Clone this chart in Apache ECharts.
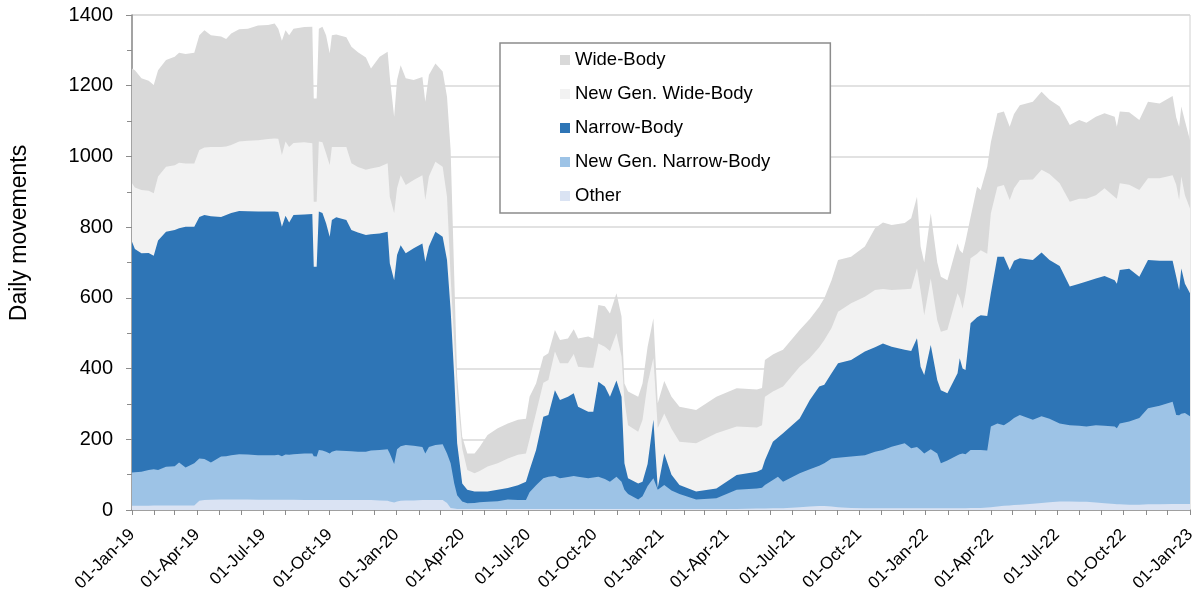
<!DOCTYPE html>
<html>
<head>
<meta charset="utf-8">
<title>Daily movements</title>
<script src="https://cdn.jsdelivr.net/npm/echarts@6/dist/echarts.min.js"></script>
<style>
  html, body { margin: 0; padding: 0; background: #fff; }
  #chart { width: 1199px; height: 593px; }
</style>
</head>
<body>
<div id="chart"></div>
<script>
// sample dates (denser where the curves move fast)
const dates = [
  '2019-01-01','2019-01-05','2019-01-14','2019-01-24','2019-01-31','2019-02-06','2019-02-17','2019-03-01','2019-03-07','2019-03-16',
  '2019-03-28','2019-04-04','2019-04-11','2019-04-20','2019-05-04','2019-05-11','2019-05-18','2019-05-29','2019-06-10','2019-06-24',
  '2019-07-08','2019-07-17','2019-07-22','2019-07-27','2019-08-01','2019-08-06','2019-08-12','2019-08-27','2019-09-07','2019-09-09',
  '2019-09-13','2019-09-16','2019-09-21','2019-09-26','2019-10-01','2019-10-04','2019-10-10','2019-10-24','2019-10-31','2019-11-09',
  '2019-11-20','2019-11-27','2019-12-09','2019-12-20','2019-12-23','2019-12-29','2020-01-02','2020-01-07','2020-01-14','2020-01-25',
  '2020-02-06','2020-02-10','2020-02-15','2020-02-24','2020-03-05','2020-03-11','2020-03-16','2020-03-21','2020-03-25','2020-04-01',
  '2020-04-08','2020-04-18','2020-04-25','2020-05-06','2020-05-20','2020-06-03','2020-06-17','2020-06-28','2020-07-03','2020-07-12',
  '2020-07-22','2020-07-29','2020-08-07','2020-08-14','2020-08-25','2020-09-02','2020-09-08','2020-09-22','2020-09-29','2020-10-06',
  '2020-10-15','2020-10-22','2020-10-31','2020-11-07','2020-11-11','2020-11-16','2020-11-30','2020-12-06','2020-12-13','2020-12-21',
  '2020-12-27','2021-01-05','2021-01-15','2021-01-26','2021-02-18','2021-03-18','2021-04-15','2021-05-13','2021-05-20','2021-05-24',
  '2021-06-04','2021-06-11','2021-06-18','2021-07-11','2021-07-25','2021-08-07','2021-08-14','2021-08-24','2021-09-02','2021-09-20',
  '2021-10-09','2021-10-23','2021-11-03','2021-11-15','2021-12-03','2021-12-12','2021-12-20','2021-12-25','2021-12-30','2022-01-08',
  '2022-01-17','2022-01-22','2022-01-31','2022-02-14','2022-02-17','2022-02-21','2022-02-25','2022-03-04','2022-03-13','2022-03-18',
  '2022-03-27','2022-04-01','2022-04-10','2022-04-19','2022-04-27','2022-05-03','2022-05-11','2022-05-29','2022-06-10','2022-06-21',
  '2022-07-05','2022-07-19','2022-08-01','2022-08-11','2022-08-24','2022-09-05','2022-09-19','2022-09-22','2022-09-26','2022-10-09',
  '2022-10-23','2022-11-04','2022-11-20','2022-12-08','2022-12-13','2022-12-17','2022-12-20','2022-12-25','2023-01-01'
]

// top edge of each layer (cumulative daily movements)
const otherTop = [
  12,12,12,12,13,13,13,13,13,13, 13,26,28,29,30,30,30,30,30,29,
  29,29,29,29,29,29,29,28,28,28, 28,28,28,28,28,28,28,28,28,28,
  28,28,27,26,24,21,24,26,27,27, 28,28,28,28,28,20,6,4,3,3,
  3,3,3,3,3,3,3,3,3,3, 3,3,3,3,3,3,3,3,3,3,
  3,3,3,3,3,3,3,3,3,3, 3,3,3,3,3,3,3,4,4,4,
  5,5,5,8,10,11,11,10,8,6, 5,5,5,5,5,5,5,5,5,5,
  5,5,5,5,5,5,5,6,6,6, 7,8,10,12,13,14,15,18,20,22,
  24,24,23,23,21,19,17,16,16,15, 15,16,16,17,17,17,17,17,17
]
const newGenNarrowTop = [
  106,107,108,113,115,113,122,124,134,120, 132,146,144,134,151,152,155,158,157,155,
  155,155,156,152,157,156,158,160,160,152, 151,170,168,165,160,165,168,167,166,165,
  165,168,170,172,160,130,172,180,184,182, 178,160,178,184,186,160,132,75,42,24,
  19,20,22,23,25,30,28,28,50,70, 90,94,96,90,93,96,94,90,92,94,
  88,80,94,80,57,45,30,39,68,90, 57,71,55,45,30,33,57,61,63,71,
  85,94,80,104,115,125,132,146,148,151, 155,165,170,179,189,175,178,170,160,172,
  160,132,140,155,158,160,158,170,170,170, 168,236,245,240,250,260,269,255,265,258,
  245,240,238,236,240,238,236,231,245,250, 260,288,295,306,269,268,272,274,265
]
const narrowTop = [
  759,738,726,727,719,762,787,792,797,801, 801,829,834,831,829,834,840,846,845,844,
  844,844,843,801,832,813,834,836,837,688, 688,844,840,811,773,820,828,820,792,785,
  778,780,782,787,698,650,721,749,726,740, 754,702,745,787,773,707,566,377,189,75,
  57,52,52,52,57,62,70,80,113,170, 264,269,339,311,320,330,292,278,278,363,
  349,320,366,320,132,90,75,80,130,255, 62,160,100,71,52,61,99,108,115,141,
  193,205,217,259,311,349,354,387,415,424, 448,460,471,462,453,450,486,405,382,467,
  368,339,330,387,429,400,396,528,545,551, 549,613,716,716,679,705,712,707,728,707,
  690,632,640,646,655,662,650,640,679,682, 660,707,705,705,660,622,683,640,613
]
const newGenWideTop = [
  924,912,905,903,896,943,971,975,982,980, 980,1018,1025,1027,1027,1028,1032,1042,1044,1046,
  1049,1051,1050,1004,1042,1027,1038,1040,1037,872, 872,1042,1040,1009,976,1027,1027,1027,981,970,
  962,966,971,981,886,839,910,947,919,933, 947,877,943,985,971,886,660,471,330,175,
  113,104,110,123,132,146,156,160,200,275, 360,368,448,415,415,441,405,402,402,471,
  462,450,500,434,310,240,221,255,358,430, 232,273,230,193,189,217,236,233,240,320,
  335,342,349,405,430,460,481,515,561,585, 603,622,625,622,624,626,684,620,551,655,
  537,504,510,613,600,570,613,712,725,735, 725,839,914,919,877,910,933,935,962,950,
  924,872,880,880,890,910,885,880,924,920, 905,938,938,947,920,877,943,890,853
]
const wideTop = [
  1249,1244,1221,1214,1202,1244,1273,1282,1293,1290, 1293,1343,1357,1343,1339,1332,1348,1360,1361,1370,
  1372,1376,1361,1327,1357,1343,1361,1366,1367,1164, 1164,1361,1367,1343,1292,1343,1345,1337,1310,1295,
  1280,1249,1282,1296,1225,1112,1216,1258,1221,1216, 1225,1155,1230,1263,1240,1169,1018,660,377,207,
  160,160,178,212,231,245,255,258,320,358, 434,443,509,481,485,511,485,491,485,580,
  576,556,613,547,358,335,320,358,462,542, 302,365,320,292,283,320,344,341,345,424,
  440,447,453,509,540,575,599,650,707,716, 745,797,813,806,812,825,886,745,700,839,
  700,660,650,754,735,726,760,829,914,905, 971,1040,1122,1127,1084,1120,1145,1155,1183,1160,
  1141,1089,1103,1095,1112,1122,1112,1084,1127,1125, 1103,1155,1150,1171,1110,1084,1141,1100,1046
]

const labelDates = [
  '2019-01-01','2019-04-01','2019-07-01','2019-10-01','2020-01-01','2020-04-01','2020-07-01','2020-10-01','2021-01-01',
  '2021-04-01','2021-07-01','2021-10-01','2022-01-01','2022-04-01','2022-07-01','2022-10-01','2023-01-01'
]
const MONTHS = ['Jan','Feb','Mar','Apr','May','Jun','Jul','Aug','Sep','Oct','Nov','Dec']

function toTime(s) {
  const p = s.split('-')
  return new Date(+p[0], +p[1] - 1, +p[2]).getTime()
}

// monthly tick marks
const monthTicks = []
for (let y = 2019; y <= 2022; y++) {
  for (let m = 0; m < 12; m++) monthTicks.push(new Date(y, m, 1).getTime())
}
monthTicks.push(new Date(2023, 0, 1).getTime())

// each band is drawn from 0 up to its top edge; upper bands sit behind lower ones
function band(top) {
  return dates.map((d, i) => [toTime(d), top[i]])
}

const FONT = '"Liberation Sans", Arial, sans-serif'

const layers = [
  { name: 'Wide-Body', color: '#d9d9d9', data: band(wideTop) },
  { name: 'New Gen. Wide-Body', color: '#f2f2f2', data: band(newGenWideTop) },
  { name: 'Narrow-Body', color: '#2e75b6', data: band(narrowTop) },
  { name: 'New Gen. Narrow-Body', color: '#9dc3e6', data: band(newGenNarrowTop) },
  { name: 'Other', color: '#dae3f3', data: band(otherTop) },
]

const chart = echarts.init(document.getElementById('chart'))

const option = {
  animation: false,
  backgroundColor: '#fff',
  textStyle: { fontFamily: FONT },
  grid: {
    left: 132, right: 9, top: 15, bottom: 83,
    outerBoundsMode: 'none',
    show: true, borderColor: '#d0d0d0', borderWidth: 1,
  },
  legend: {
    data: ['Wide-Body', 'New Gen. Wide-Body', 'Narrow-Body', 'New Gen. Narrow-Body', 'Other'],
    orient: 'vertical',
    left: 500,
    top: 43,
    padding: [7, 60, 7, 60],
    itemGap: 14,
    itemWidth: 10,
    itemHeight: 10,
    icon: 'rect',
    borderColor: '#8c8c8c',
    borderWidth: 1.5,
    backgroundColor: '#fff',
    selectedMode: false,
    textStyle: { fontFamily: FONT, fontSize: 18.5, color: '#000', lineHeight: 20 },
  },
  xAxis: {
    type: 'value',
    min: toTime('2019-01-01'),
    max: toTime('2023-01-01'),
    axisLine: { lineStyle: { color: '#8c8c8c', width: 1.5 } },
    axisTick: { show: true, length: 5, customValues: monthTicks, lineStyle: { color: '#8c8c8c' } },
    axisLabel: {
      customValues: labelDates.map(toTime),
      rotate: 45,
      margin: 22,
      fontFamily: FONT,
      fontSize: 17,
      color: '#000',
      formatter: v => {
        const d = new Date(v)
        return '01-' + MONTHS[d.getMonth()] + '-' + String(d.getFullYear()).slice(2)
      },
    },
    splitLine: { show: false },
  },
  yAxis: {
    type: 'value',
    min: 0,
    max: 1400,
    interval: 200,
    axisLine: { show: true, lineStyle: { color: '#8c8c8c', width: 1.5 } },
    axisTick: { show: true, length: 6, lineStyle: { color: '#8c8c8c' } },
    minorTick: { show: true, splitNumber: 2, length: 5, lineStyle: { color: '#8c8c8c' } },
    axisLabel: { fontFamily: FONT, fontSize: 20, color: '#000', margin: 19, formatter: v => String(v) },
    splitLine: { lineStyle: { color: '#d9d9d9', width: 1.5 } },
  },
  graphic: [
    {
      type: 'text',
      x: 20,
      y: 233,
      rotation: Math.PI / 2,
      style: {
        text: 'Daily movements',
        font: '23px ' + FONT,
        fill: '#000',
        align: 'center',
        verticalAlign: 'middle',
      },
    },
  ],
  series: layers.map((l, i) => ({
    name: l.name,
    type: 'line',
    z: 2 + i,
    symbol: 'none',
    showSymbol: false,
    color: l.color,
    itemStyle: { color: l.color },
    lineStyle: { width: 0 },
    areaStyle: { color: l.color, opacity: 1, origin: 'start' },
    emphasis: { disabled: true },
    data: l.data,
  })),
}

chart.setOption(option)
</script>
</body>
</html>
